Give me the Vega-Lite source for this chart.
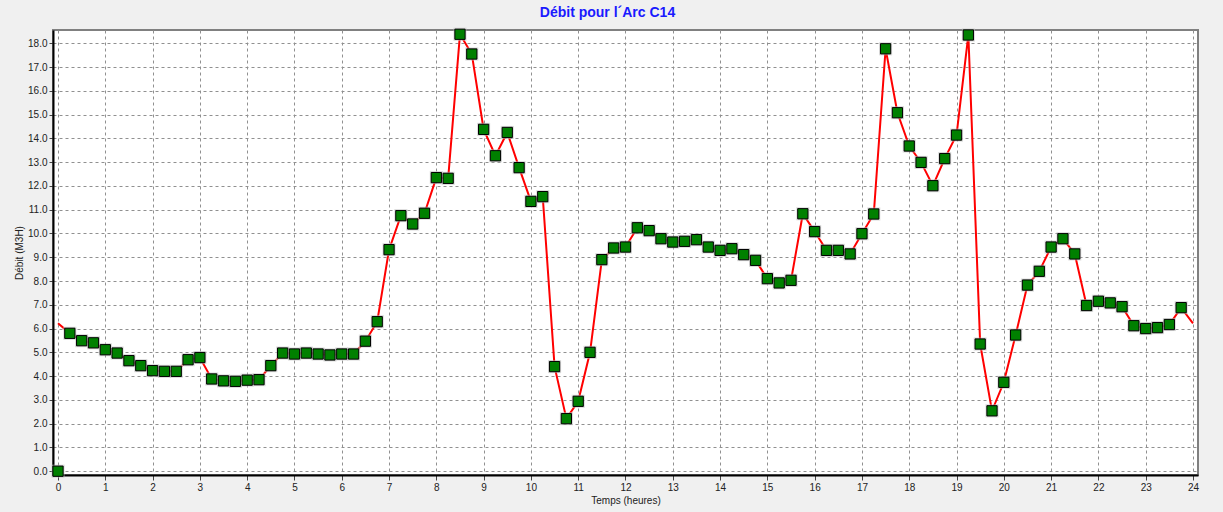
{
  "$schema": "https://vega.github.io/schema/vega-lite/v6.json",
  "autosize": {"type": "none"},
  "width": 1145,
  "height": 445,
  "padding": {"left": 53, "top": 30, "right": 25, "bottom": 37},
  "background": "#f0f0f0",
  "title": {"text": "Débit pour l´Arc C14", "color": "#1a1aff", "font": "Liberation Sans", "fontSize": 14, "fontWeight": "bold", "anchor": "middle", "dx": -18, "offset": 7},
  "config": {
    "view": {"fill": "white", "stroke": "#808080", "strokeWidth": 2},
    "axis": {"labelFont": "Liberation Sans", "titleFont": "Liberation Sans", "labelFontSize": 10, "titleFontSize": 10, "titleFontWeight": "normal", "labelColor": "#222222", "titleColor": "#222222", "tickColor": "#444444", "domainColor": "#000000", "domainWidth": 2, "gridColor": "#909090", "gridDash": [3, 3], "gridWidth": 1, "gridOpacity": 1, "labelOverlap": false}
  },
  "data": {"values": [
    {"t": 0, "v": 6.22, "m": 0},
    {"t": 0.25, "v": 5.80, "m": 5.80},
    {"t": 0.5, "v": 5.49, "m": 5.49},
    {"t": 0.75, "v": 5.40, "m": 5.40},
    {"t": 1, "v": 5.11, "m": 5.11},
    {"t": 1.25, "v": 4.97, "m": 4.97},
    {"t": 1.5, "v": 4.65, "m": 4.65},
    {"t": 1.75, "v": 4.44, "m": 4.44},
    {"t": 2, "v": 4.23, "m": 4.23},
    {"t": 2.25, "v": 4.20, "m": 4.20},
    {"t": 2.5, "v": 4.20, "m": 4.20},
    {"t": 2.75, "v": 4.69, "m": 4.69},
    {"t": 3, "v": 4.78, "m": 4.78},
    {"t": 3.25, "v": 3.88, "m": 3.88},
    {"t": 3.5, "v": 3.80, "m": 3.80},
    {"t": 3.75, "v": 3.78, "m": 3.78},
    {"t": 4, "v": 3.83, "m": 3.83},
    {"t": 4.25, "v": 3.85, "m": 3.85},
    {"t": 4.5, "v": 4.44, "m": 4.44},
    {"t": 4.75, "v": 4.97, "m": 4.97},
    {"t": 5, "v": 4.93, "m": 4.93},
    {"t": 5.25, "v": 4.97, "m": 4.97},
    {"t": 5.5, "v": 4.93, "m": 4.93},
    {"t": 5.75, "v": 4.89, "m": 4.89},
    {"t": 6, "v": 4.93, "m": 4.93},
    {"t": 6.25, "v": 4.93, "m": 4.93},
    {"t": 6.5, "v": 5.47, "m": 5.47},
    {"t": 6.75, "v": 6.29, "m": 6.29},
    {"t": 7, "v": 9.32, "m": 9.32},
    {"t": 7.25, "v": 10.75, "m": 10.75},
    {"t": 7.5, "v": 10.40, "m": 10.40},
    {"t": 7.75, "v": 10.85, "m": 10.85},
    {"t": 8, "v": 12.35, "m": 12.35},
    {"t": 8.25, "v": 12.32, "m": 12.32},
    {"t": 8.5, "v": 18.38, "m": 18.38},
    {"t": 8.75, "v": 17.55, "m": 17.55},
    {"t": 9, "v": 14.38, "m": 14.38},
    {"t": 9.25, "v": 13.27, "m": 13.27},
    {"t": 9.5, "v": 14.25, "m": 14.25},
    {"t": 9.75, "v": 12.77, "m": 12.77},
    {"t": 10, "v": 11.35, "m": 11.35},
    {"t": 10.25, "v": 11.55, "m": 11.55},
    {"t": 10.5, "v": 4.40, "m": 4.40},
    {"t": 10.75, "v": 2.21, "m": 2.21},
    {"t": 11, "v": 2.94, "m": 2.94},
    {"t": 11.25, "v": 5.00, "m": 5.00},
    {"t": 11.5, "v": 8.90, "m": 8.90},
    {"t": 11.75, "v": 9.39, "m": 9.39},
    {"t": 12, "v": 9.43, "m": 9.43},
    {"t": 12.25, "v": 10.24, "m": 10.24},
    {"t": 12.5, "v": 10.12, "m": 10.12},
    {"t": 12.75, "v": 9.78, "m": 9.78},
    {"t": 13, "v": 9.64, "m": 9.64},
    {"t": 13.25, "v": 9.67, "m": 9.67},
    {"t": 13.5, "v": 9.74, "m": 9.74},
    {"t": 13.75, "v": 9.43, "m": 9.43},
    {"t": 14, "v": 9.29, "m": 9.29},
    {"t": 14.25, "v": 9.36, "m": 9.36},
    {"t": 14.5, "v": 9.11, "m": 9.11},
    {"t": 14.75, "v": 8.87, "m": 8.87},
    {"t": 15, "v": 8.10, "m": 8.10},
    {"t": 15.25, "v": 7.92, "m": 7.92},
    {"t": 15.5, "v": 8.03, "m": 8.03},
    {"t": 15.75, "v": 10.83, "m": 10.83},
    {"t": 16, "v": 10.08, "m": 10.08},
    {"t": 16.25, "v": 9.29, "m": 9.29},
    {"t": 16.5, "v": 9.29, "m": 9.29},
    {"t": 16.75, "v": 9.14, "m": 9.14},
    {"t": 17, "v": 9.99, "m": 9.99},
    {"t": 17.25, "v": 10.82, "m": 10.82},
    {"t": 17.5, "v": 17.77, "m": 17.77},
    {"t": 17.75, "v": 15.08, "m": 15.08},
    {"t": 18, "v": 13.68, "m": 13.68},
    {"t": 18.25, "v": 12.99, "m": 12.99},
    {"t": 18.5, "v": 12.01, "m": 12.01},
    {"t": 18.75, "v": 13.15, "m": 13.15},
    {"t": 19, "v": 14.14, "m": 14.14},
    {"t": 19.25, "v": 18.35, "m": 18.35},
    {"t": 19.5, "v": 5.35, "m": 5.35},
    {"t": 19.75, "v": 2.54, "m": 2.54},
    {"t": 20, "v": 3.74, "m": 3.74},
    {"t": 20.25, "v": 5.73, "m": 5.73},
    {"t": 20.5, "v": 7.83, "m": 7.83},
    {"t": 20.75, "v": 8.41, "m": 8.41},
    {"t": 21, "v": 9.43, "m": 9.43},
    {"t": 21.25, "v": 9.78, "m": 9.78},
    {"t": 21.5, "v": 9.14, "m": 9.14},
    {"t": 21.75, "v": 6.97, "m": 6.97},
    {"t": 22, "v": 7.15, "m": 7.15},
    {"t": 22.25, "v": 7.08, "m": 7.08},
    {"t": 22.5, "v": 6.92, "m": 6.92},
    {"t": 22.75, "v": 6.12, "m": 6.12},
    {"t": 23, "v": 6.00, "m": 6.00},
    {"t": 23.25, "v": 6.04, "m": 6.04},
    {"t": 23.5, "v": 6.17, "m": 6.17},
    {"t": 23.75, "v": 6.88, "m": 6.88},
    {"t": 24, "v": 6.22}
  ]},
  "encoding": {
    "x": {"field": "t", "type": "quantitative",
      "scale": {"domain": [-0.106, 24.106], "nice": false, "zero": false},
      "axis": {"values": [0,1,2,3,4,5,6,7,8,9,10,11,12,13,14,15,16,17,18,19,20,21,22,23,24], "format": "d", "title": "Temps (heures)", "tickSize": 5, "labelPadding": 2, "titlePadding": 3, "grid": true}}
  },
  "layer": [
    {
      "mark": {"type": "line", "color": "#ff0000", "strokeWidth": 2},
      "encoding": {
        "y": {"field": "v", "type": "quantitative",
          "scale": {"domain": [-0.16, 18.56], "nice": false, "zero": false},
          "axis": {"values": [0,1,2,3,4,5,6,7,8,9,10,11,12,13,14,15,16,17,18], "format": ".1f", "title": "Débit (M3H)", "tickSize": 4, "labelPadding": 2, "titlePadding": 3, "grid": true, "labelOverlap": false}}
      }
    },
    {
      "mark": {"type": "point", "shape": "square", "filled": true, "color": "#c0c0c0", "opacity": 0.6, "size": 170},
      "encoding": {"y": {"field": "m", "type": "quantitative",
          "scale": {"domain": [-0.16, 18.56], "nice": false, "zero": false},
          "axis": {"values": [0,1,2,3,4,5,6,7,8,9,10,11,12,13,14,15,16,17,18], "format": ".1f", "title": "Débit (M3H)", "tickSize": 4, "labelPadding": 2, "titlePadding": 3, "grid": true, "labelOverlap": false}}}
    },
    {
      "mark": {"type": "point", "shape": "square", "filled": true, "fill": "#008000", "stroke": "#000000", "strokeWidth": 1, "opacity": 1, "size": 105},
      "encoding": {"y": {"field": "m", "type": "quantitative",
          "scale": {"domain": [-0.16, 18.56], "nice": false, "zero": false},
          "axis": {"values": [0,1,2,3,4,5,6,7,8,9,10,11,12,13,14,15,16,17,18], "format": ".1f", "title": "Débit (M3H)", "tickSize": 4, "labelPadding": 2, "titlePadding": 3, "grid": true, "labelOverlap": false}}}
    }
  ]
}
